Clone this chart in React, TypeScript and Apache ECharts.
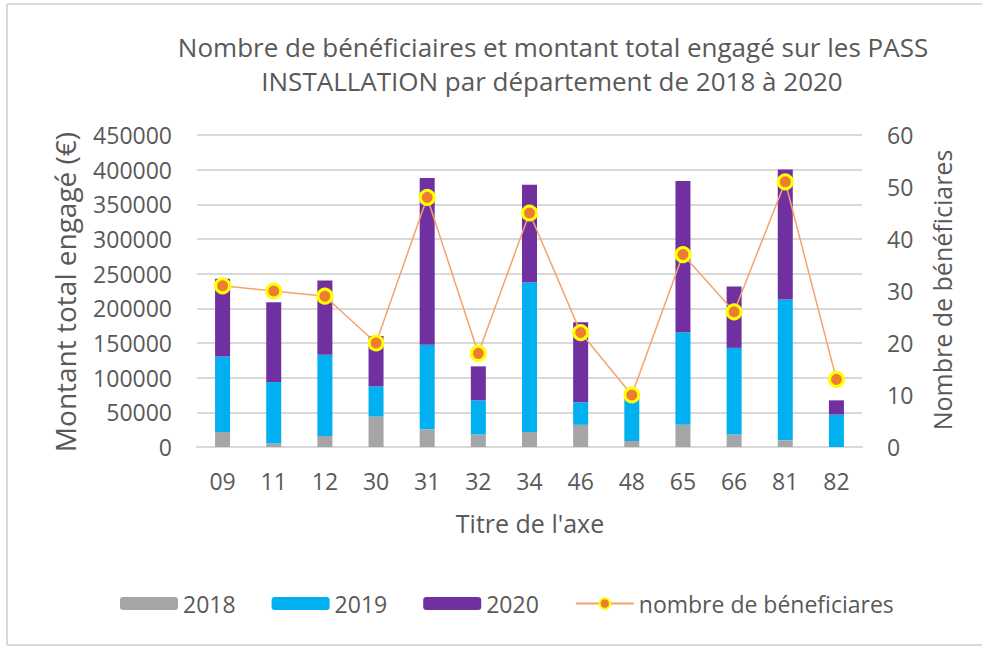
import React, { useEffect, useRef } from "react";
import * as echarts from "echarts";

const categories = ["09", "11", "12", "30", "31", "32", "34", "46", "48", "65", "66", "81", "82"];
const amount2018 = [21600, 5000, 16000, 44000, 25500, 18000, 21600, 32000, 8600, 32000, 18000, 9600, 0];
const amount2019 = [109000, 88700, 117000, 43500, 122000, 49300, 216000, 32500, 60000, 133500, 125000, 203000, 46700];
const amount2020 = [112000, 115200, 107000, 72500, 240500, 49000, 140500, 115500, 1000, 218000, 88500, 187500, 20600];
const beneficiaries = [31, 30, 29, 20, 48, 18, 45, 22, 10, 37, 26, 51, 13];
const seriesNames = ["2018", "2019", "2020", "nombre de béneficiares"];

const FONT = "'Open Sans', 'Noto Sans', sans-serif";
const TXT = "#595959";

export default function App() {
  const ref = useRef<HTMLDivElement>(null);
  useEffect(() => {
    if (!ref.current) return;
    const chart = echarts.init(ref.current, undefined, { renderer: "svg" });
    const barBase = { type: "bar", stack: "total", barWidth: 15, yAxisIndex: 0 };
    chart.setOption({
      animation: false,
      backgroundColor: "#ffffff",
      textStyle: { fontFamily: FONT },
      grid: { left: 197, right: 120, top: 135, bottom: 200, containLabel: false },
      legend: {
        left: 115,
        top: 587,
        itemWidth: 58,
        itemHeight: 13,
        itemGap: 36,
        textStyle: { fontSize: 23, color: TXT, fontFamily: FONT },
        data: seriesNames,
      },
      xAxis: {
        type: "category",
        data: categories,
        axisTick: { show: false },
        axisLine: { show: true, lineStyle: { color: "#D9D9D9", width: 2 } },
        axisLabel: { color: TXT, fontSize: 23, margin: 22, fontFamily: FONT },
      },
      yAxis: [
        {
          type: "value",
          min: 0,
          max: 450000,
          interval: 50000,
          axisLine: { show: false },
          axisTick: { show: false },
          axisLabel: {
            color: TXT,
            fontSize: 23,
            margin: 25,
            fontFamily: FONT,
            formatter: (v: number) => String(v),
          },
          splitLine: { show: true, lineStyle: { color: "#D9D9D9", width: 2 } },
        },
        {
          type: "value",
          min: 0,
          max: 60,
          interval: 10,
          axisLine: { show: false },
          axisTick: { show: false },
          axisLabel: { color: TXT, fontSize: 23, margin: 25, fontFamily: FONT },
          splitLine: { show: false },
        },
      ],
      series: [
        { ...barBase, name: seriesNames[0], data: amount2018, itemStyle: { color: "#A5A5A5" } },
        { ...barBase, name: seriesNames[1], data: amount2019, itemStyle: { color: "#00B0F0" } },
        { ...barBase, name: seriesNames[2], data: amount2020, itemStyle: { color: "#7030A0" } },
        {
          type: "line",
          name: seriesNames[3],
          yAxisIndex: 1,
          data: beneficiaries,
          symbol: "circle",
          symbolSize: 14,
          lineStyle: { color: "#F4A36C", width: 1.5 },
          itemStyle: { color: "#ED7D31", borderColor: "#FFFF00", borderWidth: 3 },
          z: 5,
        },
      ],
      graphic: [
        { type: "line", shape: { x1: 7, y1: 4, x2: 982, y2: 4 }, style: { stroke: "#D9D9D9", lineWidth: 2 } },
        { type: "line", shape: { x1: 7, y1: 4, x2: 7, y2: 645 }, style: { stroke: "#D9D9D9", lineWidth: 2 } },
        { type: "line", shape: { x1: 7, y1: 645, x2: 982, y2: 645 }, style: { stroke: "#D9D9D9", lineWidth: 2 } },
        {
          type: "text",
          x: 553,
          y: 47,
          style: {
            text: "Nombre de bénéficiaires et montant total engagé sur les PASS",
            fill: TXT,
            font: `26px ${FONT}`,
            align: "center",
            verticalAlign: "middle",
          },
        },
        {
          type: "text",
          x: 552,
          y: 81,
          style: {
            text: "INSTALLATION par département de 2018 à 2020",
            fill: TXT,
            font: `26px ${FONT}`,
            align: "center",
            verticalAlign: "middle",
          },
        },
        {
          type: "text",
          x: 65,
          y: 292,
          rotation: Math.PI / 2,
          style: {
            text: "Montant total engagé (€)",
            fill: TXT,
            font: `28px ${FONT}`,
            align: "center",
            verticalAlign: "middle",
          },
        },
        {
          type: "text",
          x: 942,
          y: 290,
          rotation: Math.PI / 2,
          style: {
            text: "Nombre de bénéficiares",
            fill: TXT,
            font: `25px ${FONT}`,
            align: "center",
            verticalAlign: "middle",
          },
        },
        {
          type: "text",
          x: 530,
          y: 523,
          style: {
            text: "Titre de l'axe",
            fill: TXT,
            font: `25px ${FONT}`,
            align: "center",
            verticalAlign: "middle",
          },
        },
      ],
    });
    return () => chart.dispose();
  }, []);
  return (
    <div
      ref={ref}
      style={{ position: "fixed", left: 0, top: 0, width: 982, height: 647, background: "#fff" }}
    />
  );
}
